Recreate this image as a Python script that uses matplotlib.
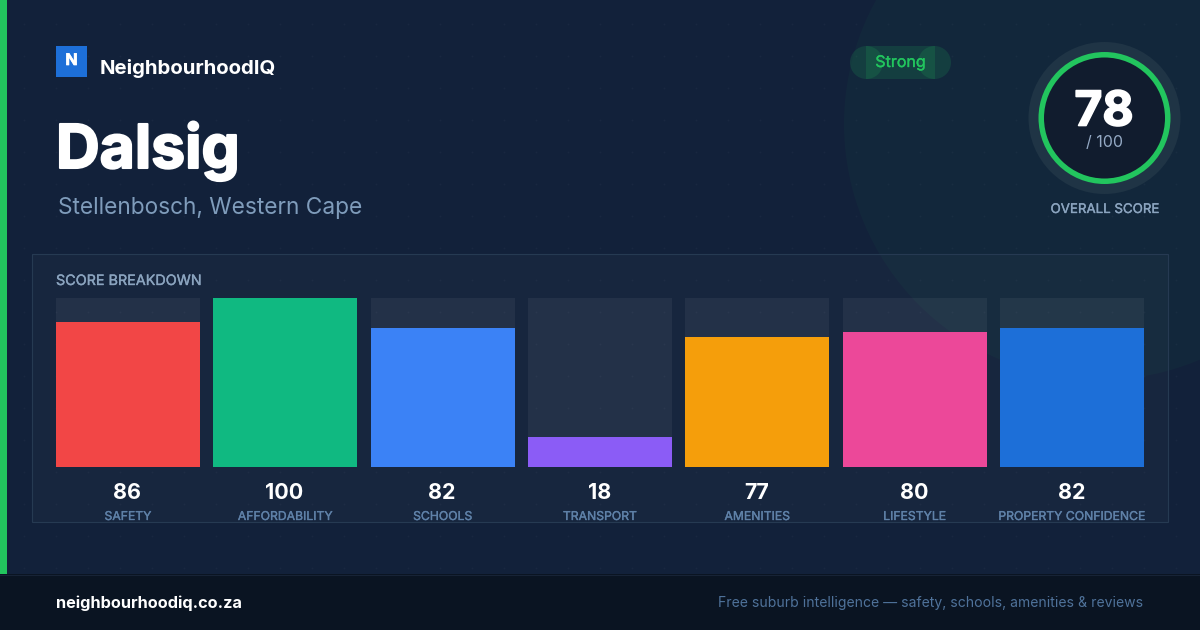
import numpy as np
import matplotlib
matplotlib.use("Agg")
import matplotlib.pyplot as plt
import matplotlib.patheffects as pe
from matplotlib.patches import Circle, Rectangle

# Chart values
categories = ["SAFETY", "AFFORDABILITY", "SCHOOLS", "TRANSPORT", "AMENITIES", "LIFESTYLE", "PROPERTY CONFIDENCE"]
scores = [86, 100, 82, 18, 77, 80, 82]
bar_colors = ["#f24646", "#10b981", "#3b82f6", "#8b5cf6", "#f59e0b", "#ec4899", "#1d6fd8"]
overall_score = 78

plt.rcParams["font.family"] = ["Inter", "DejaVu Sans"]

BG = "#12213a"
GREEN = "#22c55e"
PX = 0.72  # css px to points at dpi 100


def px_axes(fig):
    # full figure axes measured in pixels, y going down
    ax = fig.add_axes([0, 0, 1, 1])
    ax.set_xlim(0, 1200)
    ax.set_ylim(630, 0)
    ax.axis("off")
    return ax


def thicken(color, width):
    # no medium or extra bold cut to pick from, so fatten the glyphs a little
    return [pe.withStroke(linewidth=width, foreground=color)]


fig = plt.figure(figsize=(12, 6.3), dpi=100, facecolor=BG)
bg = px_axes(fig)

# faint dot pattern
dot_x, dot_y = np.meshgrid(np.arange(24, 1200, 32), np.arange(24, 574, 32))
bg.scatter(dot_x.ravel(), dot_y.ravel(), s=1.6, color="#ffffff", alpha=0.03, linewidths=0, zorder=1)

# big tinted circle at the upper right
bg.add_patch(Circle((1100, 124), 256, facecolor=GREEN, alpha=0.04, edgecolor="none", zorder=1))

# left stripe and footer
bg.add_patch(Rectangle((0, 0), 7, 574, facecolor=GREEN, edgecolor="none", zorder=2))
bg.add_patch(Rectangle((0, 574), 1200, 56, facecolor="#0a1422", edgecolor="none", zorder=2))
bg.plot([0, 1200], [574.5, 574.5], color="#172336", lw=0.72, zorder=3)

# logo
bg.add_patch(Rectangle((56, 46), 31, 31, facecolor="#1d6fd8", edgecolor="none", zorder=3))
bg.text(71.5, 60.5, "N", color="white", fontsize=16 * PX, fontweight="bold", ha="center", va="center", zorder=4,
        path_effects=thicken("white", 0.5))
bg.text(100, 68.5, "NeighbourhoodIQ", color="white", fontsize=20.35 * PX, fontweight="bold", ha="left", va="center", zorder=4)

# headings
bg.text(56, 168, "Dalsig", color="white", fontsize=60.5 * PX, fontweight="bold", ha="left", va="baseline", zorder=4,
        path_effects=thicken("white", 1.5))
bg.text(58, 214, "Stellenbosch, Western Cape", color="#7f9cbb", fontsize=22.7 * PX, ha="left", va="baseline", zorder=4)

# strength pill, the end caps overlap the body
bg.add_patch(Rectangle((866, 46), 69, 33, facecolor=GREEN, alpha=0.15, edgecolor="none", zorder=3))
bg.add_patch(Circle((866.5, 62.5), 16.5, facecolor=GREEN, alpha=0.15, edgecolor="none", zorder=3))
bg.add_patch(Circle((934.5, 62.5), 16.5, facecolor=GREEN, alpha=0.15, edgecolor="none", zorder=3))
bg.text(900.5, 62.5, "Strong", color=GREEN, fontsize=16 * PX, ha="center", va="center", zorder=4,
        path_effects=thicken(GREEN, 0.25))

# overall score ring
bg.add_patch(Circle((1104.5, 118), 76, facecolor="#1f3445", edgecolor="none", zorder=3))
bg.add_patch(Circle((1104.5, 118), 63.25, facecolor="#111c2e", edgecolor=GREEN, lw=5.5 * PX, zorder=4))
bg.text(1104, 125.5, str(overall_score), color="white", fontsize=48 * PX, fontweight="bold", ha="center", va="baseline", zorder=5,
        path_effects=thicken("white", 1.2))
bg.text(1104.5, 147, "/ 100", color="#94a9c4", fontsize=16 * PX, ha="center", va="baseline", zorder=5)
bg.text(1104.5, 213, "OVERALL SCORE", color="#8ba4bf", fontsize=13.3 * PX, ha="center", va="baseline", zorder=5,
        path_effects=thicken("#8ba4bf", 0.25))

# breakdown panel
bg.add_patch(Rectangle((32, 254), 1136, 268, facecolor="#ffffff", alpha=0.025, edgecolor="none", zorder=2))
bg.add_patch(Rectangle((32, 254), 1136, 268, facecolor="none", edgecolor="#263a52", lw=0.8, zorder=2))
bg.text(56, 285, "SCORE BREAKDOWN", color="#8ba4bf", fontsize=14.35 * PX, ha="left", va="baseline", zorder=4,
        path_effects=thicken("#8ba4bf", 0.25))

# footer text
bg.text(56, 608, "neighbourhoodiq.co.za", color="white", fontsize=16.3 * PX, fontweight="bold", ha="left", va="baseline", zorder=4)
bg.text(1143, 607, "Free suburb intelligence \u2014 safety, schools, amenities & reviews", color="#4f729a",
        fontsize=14.0 * PX, ha="right", va="baseline", zorder=4)

# bars, axes spans the drawn bar area exactly
ax = fig.add_axes([56 / 1200, 1 - 467 / 630, 1088 / 1200, 169 / 630])
ax.patch.set_alpha(0)
x = np.arange(len(categories))
pitch = (1144 - 56 - 144) / 6
width = 144 / pitch
ax.bar(x, [100] * len(x), width=width, color="#ffffff", alpha=0.055, linewidth=0)
ax.bar(x, scores, width=width, color=bar_colors, linewidth=0)
ax.set_xlim(-width / 2, len(x) - 1 + width / 2)
ax.set_ylim(0, 100)
ax.set_yticks([])
ax.set_xticks(x, categories, color="#5f81a8", fontsize=12.2 * PX)
ax.tick_params(axis="x", length=0, pad=44 * PX)
for label in ax.get_xticklabels():
    label.set_path_effects(thicken("#5f81a8", 0.25))
for side in ax.spines.values():
    side.set_visible(False)

for i, score in enumerate(scores):
    ax.annotate(str(score), (i - 0.005, 0), xytext=(0, -32 * PX), textcoords="offset points", color="white",
                fontsize=21.5 * PX, fontweight="bold", ha="center", va="baseline")

fig.savefig("out.png", dpi=100, facecolor=BG)
